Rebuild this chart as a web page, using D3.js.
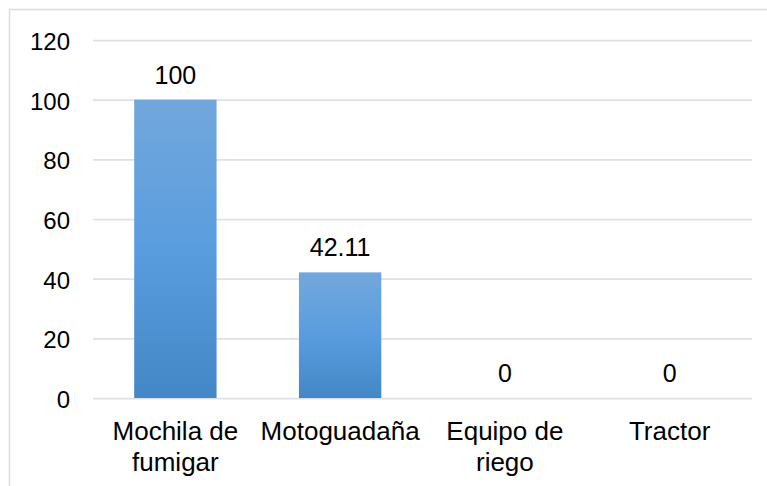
<!DOCTYPE html>
<html>
<head>
<meta charset="utf-8">
<script src="https://cdn.jsdelivr.net/npm/d3@7"></script>
<style>
  html, body { margin: 0; padding: 0; background: #ffffff; }
  svg { display: block; }
  text { font-family: "Liberation Sans", Arial, sans-serif; fill: #000; }
</style>
</head>
<body>
<svg id="chart" width="767" height="486"></svg>
<script>
const categories = [["Mochila de", "fumigar"], ["Motoguadaña"], ["Equipo de", "riego"], ["Tractor"]];
const values = [100, 42.11, 0, 0];
const valueLabels = ["100", "42.11", "0", "0"];
const yTicks = [0, 20, 40, 60, 80, 100, 120];

(function () {
const W = 767, H = 486;
const svg = d3.select("#chart");

// chart border
svg.append("rect")
  .attr("x", 9.5).attr("y", 9.5)
  .attr("width", W + 10).attr("height", H + 10)
  .attr("fill", "none")
  .attr("stroke", "#d9dde3")
  .attr("stroke-width", 1.5);

const pLeft = 93, pRight = 752, pTop = 40, pBottom = 398;
const keys = categories.map((c, i) => i);
const x = d3.scaleBand().domain(keys).range([pLeft, pRight]).paddingInner(0.5).paddingOuter(0.25);
const y = d3.scaleLinear().domain([0, 120]).range([pBottom, pTop]);

const defs = svg.append("defs");
const grad = defs.append("linearGradient").attr("id", "barGrad")
  .attr("x1", 0).attr("y1", 0).attr("x2", 0).attr("y2", 1);
grad.append("stop").attr("offset", "0%").attr("stop-color", "#72a7dc");
grad.append("stop").attr("offset", "50%").attr("stop-color", "#5a9ddf");
grad.append("stop").attr("offset", "100%").attr("stop-color", "#4387c6");

// gridlines
const yAxis = d3.axisLeft(y).tickValues(yTicks).tickSize(-(pRight - pLeft)).tickPadding(23).tickFormat(d3.format("d"));
const gY = svg.append("g").attr("transform", `translate(${pLeft},0)`).call(yAxis);
gY.select(".domain").remove();
gY.selectAll(".tick line").attr("stroke", "#dde1e6").attr("stroke-width", 1.75);
gY.selectAll(".tick text")
  .style("font-family", '"Liberation Sans", Arial, sans-serif')
  .style("font-size", "24px").attr("fill", "#000").attr("dy", "0.4em");

// bars
svg.append("g").selectAll("rect").data(values).join("rect")
  .attr("x", (d, i) => x(i))
  .attr("y", d => y(d))
  .attr("width", x.bandwidth())
  .attr("height", d => pBottom - y(d))
  .attr("fill", "url(#barGrad)");

// data labels
svg.append("g").selectAll("text").data(values).join("text")
  .attr("x", (d, i) => x(i) + x.bandwidth() / 2)
  .attr("y", d => y(d) - 16)
  .attr("text-anchor", "middle")
  .style("font-size", "25px")
  .text((d, i) => valueLabels[i]);

// category labels
const xAxis = d3.axisBottom(x).tickSize(0).tickFormat(() => "");
const gX = svg.append("g").attr("transform", `translate(0,${pBottom})`).call(xAxis);
gX.select(".domain").remove();
gX.selectAll(".tick").each(function(d) {
  const t = d3.select(this).append("text")
    .attr("text-anchor", "middle")
    .attr("fill", "#000")
    .style("font-family", '"Liberation Sans", Arial, sans-serif')
    .style("font-size", "26px");
  categories[d].forEach((line, j) => {
    t.append("tspan").attr("x", 0).attr("y", 42 + j * 31).text(line);
  });
});
})();
</script>
</body>
</html>
